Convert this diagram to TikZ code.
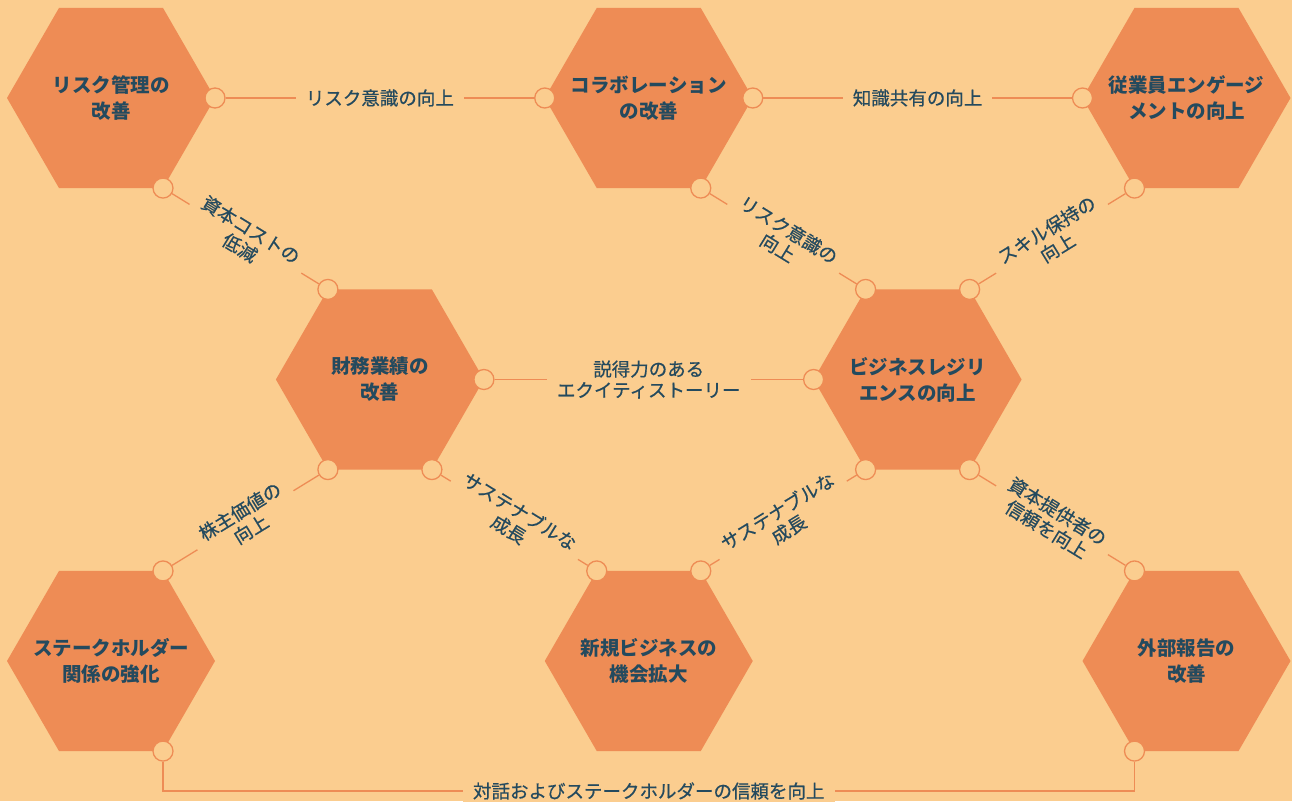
\documentclass[tikz,border=0pt]{standalone}
\usepackage{fontspec}
\setmainfont{Noto Sans CJK JP}
\newfontfamily\jpmed{Noto Sans CJK JP}[FakeBold=0.6]
\usetikzlibrary{calc}
\definecolor{bg}{HTML}{FBCD8F}
\definecolor{hexc}{HTML}{EE8C55}
\definecolor{txt}{HTML}{244A5E}
\tikzset{
  hextext/.style={text=txt,font=\fontsize{19.5}{26}\selectfont\bfseries,align=center,inner sep=0pt},
  port/.style={circle,draw=hexc,fill=bg,line width=1.3pt,minimum size=20pt,inner sep=0pt},
  conn/.style={draw=hexc,line width=1.3pt},
  lbl/.style={text=txt,font=\jpmed\fontsize{18.5}{21}\selectfont,align=center,fill=bg,inner xsep=10pt,inner ysep=2pt},
}
\newcommand{\hexa}[3]{%
  \fill[hexc] ($(#2)+(0:104)$) -- ($(#2)+(60:104)$) -- ($(#2)+(120:104)$) -- ($(#2)+(180:104)$) -- ($(#2)+(240:104)$) -- ($(#2)+(300:104)$) -- cycle;
  \node[hextext] (#1) at (#2) {#3};
}
\begin{document}
\begin{tikzpicture}[x=1pt,y=-1pt]
\fill[bg] (0,0) rectangle (1292,801);
\useasboundingbox (0,0) rectangle (1292,801);
\coordinate (c1) at (111,98);
\coordinate (c2) at (648.75,98);
\coordinate (c3) at (1186.5,98);
\coordinate (c4) at (379.9,379.5);
\coordinate (c5) at (917.6,379.5);
\coordinate (c7) at (111,661);
\coordinate (c8) at (648.75,661);
\coordinate (c9) at (1186.5,661);
\hexa{h1}{c1}{リスク管理の\\改善}
\hexa{h2}{c2}{コラボレーション\\の改善}
\hexa{h3}{c3}{従業員エンゲージ\\メントの向上}
\hexa{h4}{c4}{財務業績の\\改善}
\hexa{h5}{c5}{ビジネスレジリ\\エンスの向上}
\hexa{h7}{c7}{ステークホルダー\\関係の強化}
\hexa{h8}{c8}{新規ビジネスの\\機会拡大}
\hexa{h9}{c9}{外部報告の\\改善}
% ports
\node[port] (h1r)  at ($(c1)+(0:104)$) {};
\node[port] (h1br) at ($(c1)+(60:104)$) {};
\node[port] (h2l)  at ($(c2)+(180:104)$) {};
\node[port] (h2r)  at ($(c2)+(0:104)$) {};
\node[port] (h2br) at ($(c2)+(60:104)$) {};
\node[port] (h3l)  at ($(c3)+(180:104)$) {};
\node[port] (h3bl) at ($(c3)+(120:104)$) {};
\node[port] (h4tl) at ($(c4)+(240:104)$) {};
\node[port] (h4r)  at ($(c4)+(0:104)$) {};
\node[port] (h4bl) at ($(c4)+(120:104)$) {};
\node[port] (h4br) at ($(c4)+(60:104)$) {};
\node[port] (h5tl) at ($(c5)+(240:104)$) {};
\node[port] (h5tr) at ($(c5)+(300:104)$) {};
\node[port] (h5l)  at ($(c5)+(180:104)$) {};
\node[port] (h5bl) at ($(c5)+(120:104)$) {};
\node[port] (h5br) at ($(c5)+(60:104)$) {};
\node[port] (h7tr) at ($(c7)+(300:104)$) {};
\node[port] (h7br) at ($(c7)+(60:104)$) {};
\node[port] (h8tl) at ($(c8)+(240:104)$) {};
\node[port] (h8tr) at ($(c8)+(300:104)$) {};
\node[port] (h9tl) at ($(c9)+(240:104)$) {};
\node[port] (h9bl) at ($(c9)+(120:104)$) {};
% connectors
\draw[conn] (h1r) -- node[lbl] {リスク意識の向上} (h2l);
\draw[conn] (h2r) -- node[lbl] {知識共有の向上} (h3l);
\draw[conn] (h1br) -- node[lbl,sloped] {資本コストの\\低減} (h4tl);
\draw[conn] (h2br) -- node[lbl,sloped] {リスク意識の\\向上} (h5tl);
\draw[conn] (h3bl) -- node[lbl,sloped] {スキル保持の\\向上} (h5tr);
\draw[conn] (h4r) -- node[lbl] {説得力のある\\エクイティストーリー} (h5l);
\draw[conn] (h4bl) -- node[lbl,sloped] {株主価値の\\向上} (h7tr);
\draw[conn] (h4br) -- node[lbl,sloped] {サステナブルな\\成長} (h8tl);
\draw[conn] (h5bl) -- node[lbl,sloped] {サステナブルな\\成長} (h8tr);
\draw[conn] (h5br) -- node[lbl,sloped] {資本提供者の\\信頼を向上} (h9tl);
\coordinate (mid) at (648.75,791);
\draw[conn] (h7br) |- (mid) -| (h9bl);
\node[lbl] (bl) at (mid) {対話およびステークホルダーの信頼を向上};
\end{tikzpicture}
\end{document}
